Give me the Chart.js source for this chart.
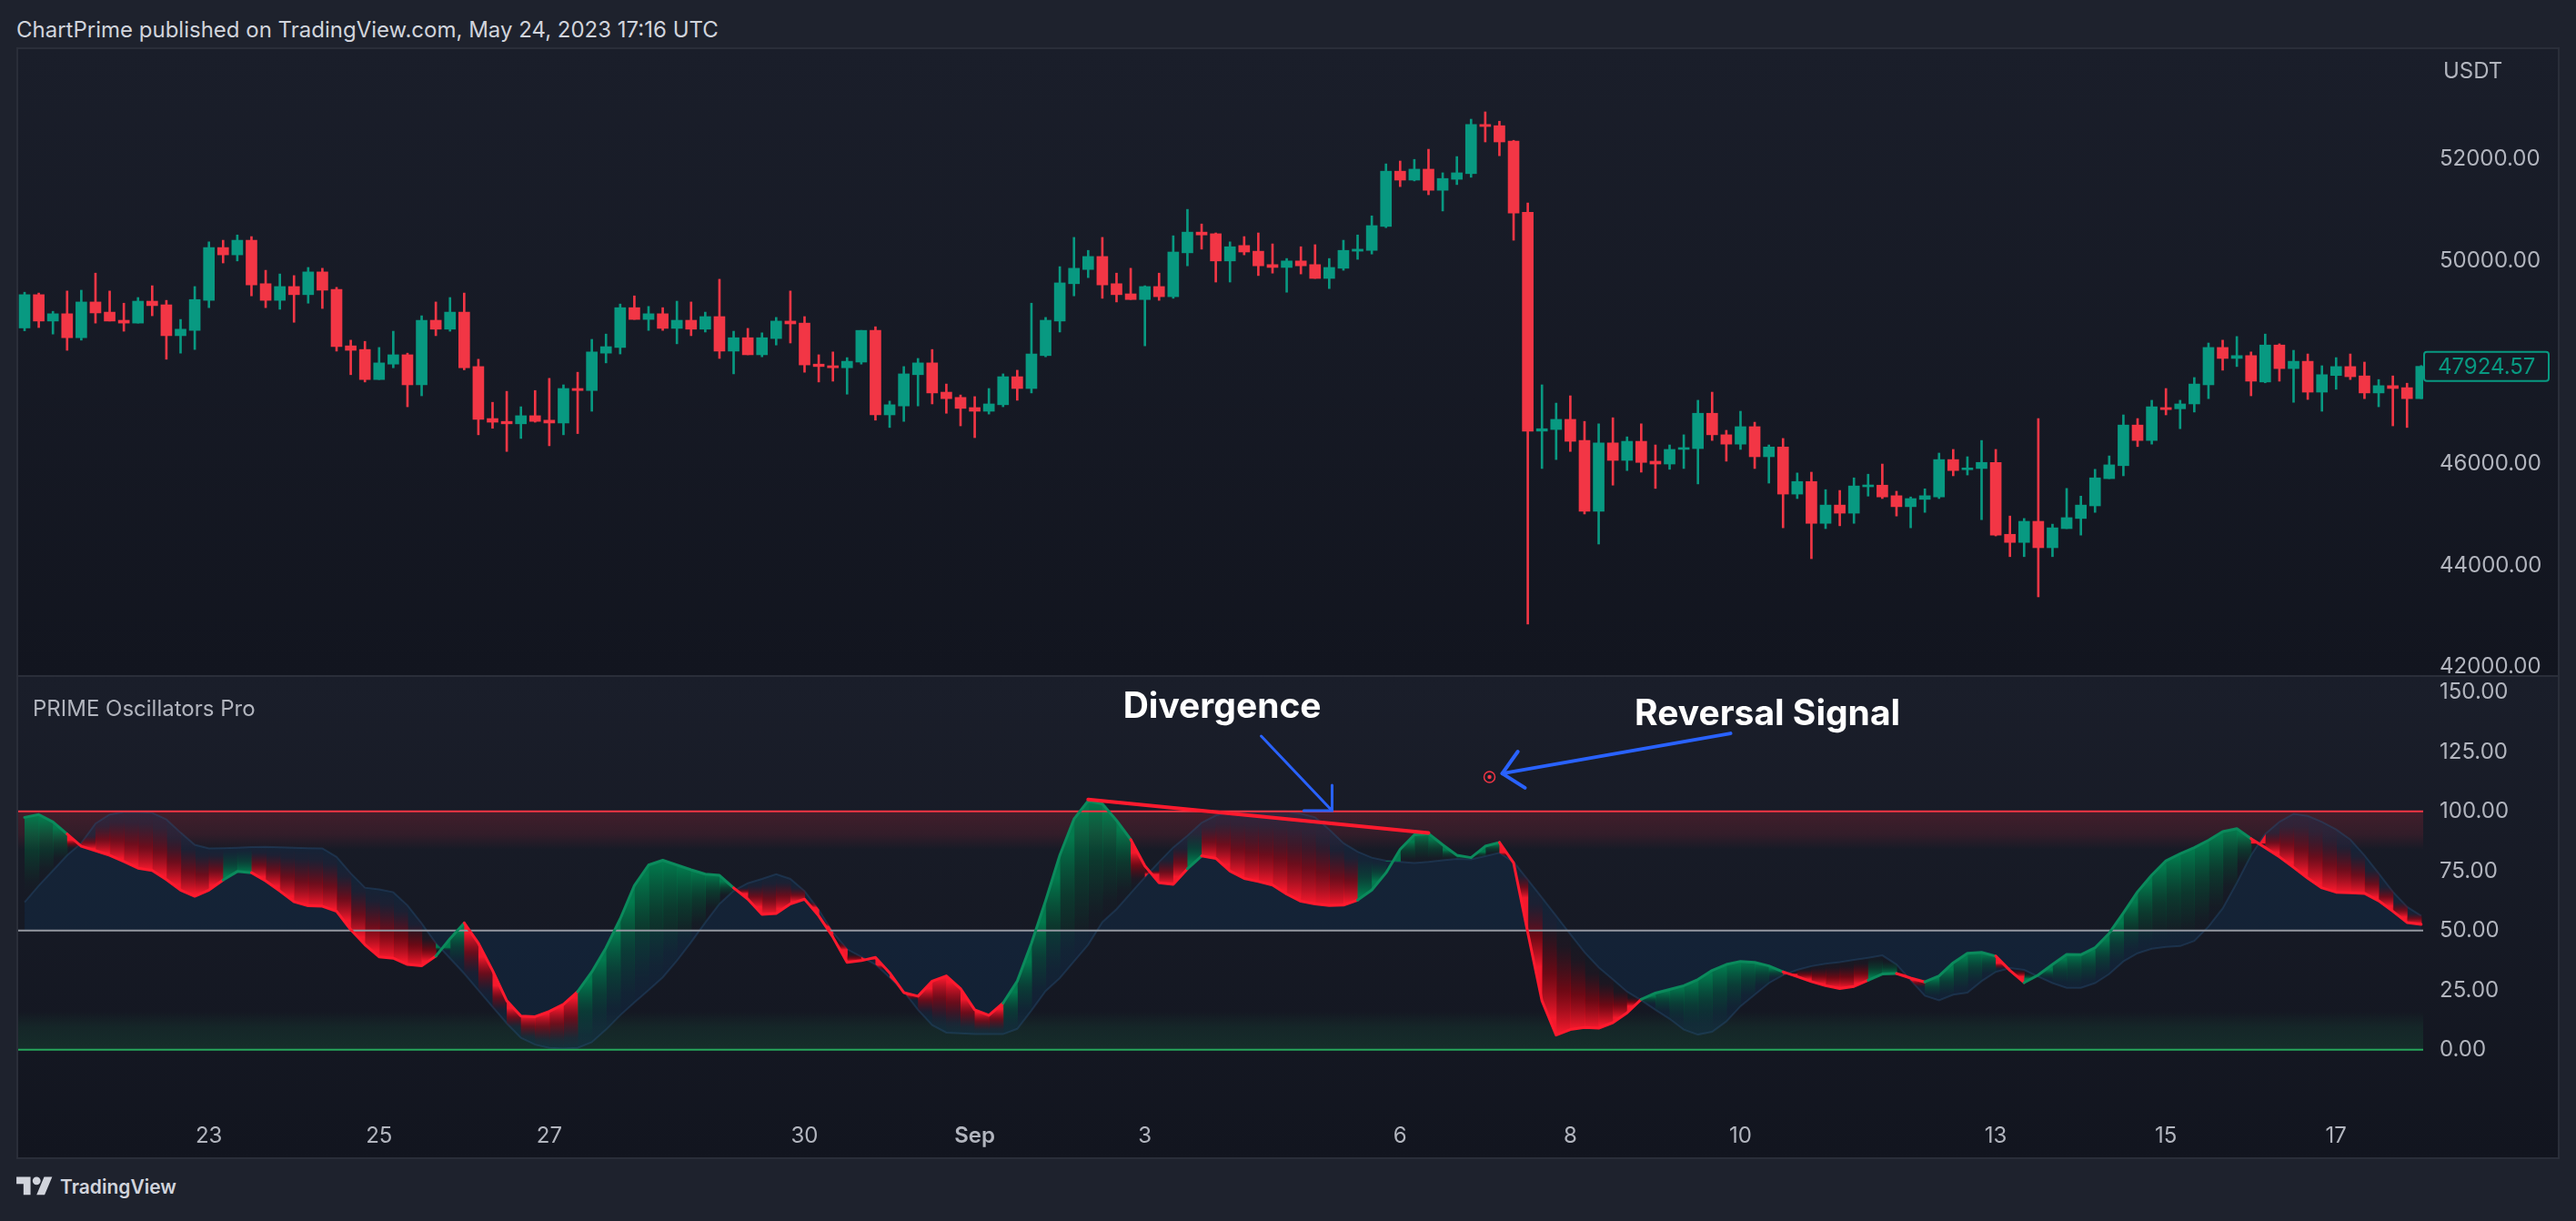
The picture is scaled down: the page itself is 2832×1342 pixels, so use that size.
<!DOCTYPE html>
<html>
<head>
<meta charset="utf-8">
<title>PRIME Oscillators Pro</title>
<script src="https://cdn.jsdelivr.net/npm/chart.js@4.4.0/dist/chart.umd.min.js"></script>
<style>
  html, body { margin: 0; padding: 0; background: #1e222d; width: 2832px; height: 1342px; overflow: hidden; font-family: Inter, "Noto Sans", sans-serif; }
  #header { position: absolute; left: 18px; top: 19px; font-size: 24px; line-height: 28px; color: #d1d4dc; white-space: nowrap; }
  #frame { position: absolute; left: 18px; top: 52px; width: 2796px; height: 1222px; border: 2px solid #2a2e39; box-sizing: border-box; }
  #price, #osc { position: absolute; left: 20px; }
  #price { top: 54px; }
  #osc { top: 744px; }
  #sep { position: absolute; left: 20px; top: 742px; width: 2792px; height: 2px; background: #2a2e39; }
  #brand { position: absolute; left: 18px; top: 1289px; height: 31px; display: flex; align-items: center; gap: 8px; color: #d1d4dc; font-size: 21px; font-weight: 600; }
</style>
</head>
<body>
<div id="header">ChartPrime published on TradingView.com, May 24, 2023 17:16 UTC</div>
<div id="frame"></div>
<canvas id="price" width="2792" height="688"></canvas>
<div id="sep"></div>
<canvas id="osc" width="2792" height="528"></canvas>
<div id="brand">
  <svg width="40" height="31" viewBox="0 0 36 28"><path fill="#d1d4dc" d="M14 22H7V11H0V4h14v18zM28 22h-8l7.5-18h8L28 22z"/><circle fill="#d1d4dc" cx="20" cy="8" r="4"/></svg>
  <span>TradingView</span>
</div>
<script>
// 4h candles, BTCUSDT, Aug 20 2021 20:00 -> Sep 18 2021
const opens = [
  48680, 49336, 48816, 48960, 48488, 49192, 48992, 48832, 48776, 49208,
  49136, 48528, 48632, 49224, 50264, 50120, 50408, 49552, 49224, 49496,
  49336, 49784, 49440, 48328, 48256, 47664, 47968, 48152, 47560, 48832,
  48656, 48992, 47920, 46896, 46840, 46792, 46952, 46864, 46808, 47488,
  47448, 48184, 48296, 49080, 48848, 48960, 48672, 48832, 48656, 48904,
  48224, 48488, 48152, 48472, 48816, 48776, 47968, 47936, 47896, 48008,
  48632, 46968, 47144, 47760, 47992, 47416, 47312, 47112, 47040, 47168,
  47720, 47488, 48136, 48816, 49552, 49832, 50088, 49552, 49352, 49240,
  49496, 49296, 50160, 50568, 50536, 50000, 50304, 50192, 49928, 49872,
  50000, 49928, 49656, 49856, 50192, 50208, 50680, 51768, 51592, 51808,
  51392, 51608, 51720, 52688, 52664, 52360, 50960, 46648, 46680, 46880,
  46464, 45072, 46416, 46072, 46448, 46056, 46000, 46288, 46304, 47000,
  46576, 46392, 46736, 46144, 46336, 45408, 45656, 44832, 45192, 45032,
  45552, 45584, 45376, 45160, 45304, 45352, 46088, 45888, 45912, 46032,
  44616, 44456, 44872, 44352, 44728, 44928, 45176, 45712, 45968, 46768,
  46464, 47112, 47088, 47184, 47560, 48296, 48080, 48136, 47616, 48344,
  47880, 48024, 47416, 47744, 47920, 47736, 47400, 47544, 47504, 47288
];
const highs = [
  49384, 49368, 49008, 49408, 49424, 49760, 49408, 49168, 49280, 49512,
  49224, 48848, 49496, 50376, 50408, 50512, 50480, 49816, 49744, 49712,
  49872, 49856, 49480, 48440, 48416, 48296, 48616, 48184, 48920, 49192,
  49280, 49368, 48064, 47216, 47432, 47128, 47448, 47688, 47560, 47808,
  48456, 48560, 49152, 49312, 49104, 49080, 49208, 49192, 48992, 49640,
  48616, 48672, 48584, 48888, 49408, 48904, 48152, 48208, 48096, 48632,
  48704, 47240, 47920, 48080, 48256, 47576, 47360, 47328, 47488, 47776,
  47848, 49168, 48888, 49888, 50464, 50208, 50464, 49760, 49856, 49512,
  49760, 50496, 51016, 50728, 50552, 50376, 50480, 50552, 50336, 50048,
  50280, 50320, 50048, 50408, 50512, 50888, 51912, 51968, 52000, 52200,
  51736, 52056, 52792, 52936, 52752, 52376, 51144, 47560, 47200, 47344,
  46840, 46792, 46912, 46536, 46792, 46376, 46376, 46576, 47256, 47416,
  46664, 47040, 46824, 46376, 46504, 45824, 45840, 45496, 45480, 45728,
  45800, 46000, 45464, 45352, 45512, 46216, 46288, 46144, 46464, 46288,
  44976, 44928, 46896, 44816, 45520, 45368, 45896, 46160, 46968, 46896,
  47256, 47488, 47256, 47704, 48384, 48440, 48512, 48208, 48560, 48368,
  48240, 48168, 47936, 48096, 48168, 48008, 47664, 47736, 47592, 47940
];
const lows = [
  48624, 48688, 48560, 48240, 48440, 48776, 48816, 48616, 48776, 48920,
  48064, 48184, 48256, 49080, 49960, 50000, 49312, 49080, 49048, 48792,
  49168, 49064, 48224, 47760, 47616, 47664, 47896, 47128, 47344, 48528,
  48616, 47856, 46576, 46704, 46248, 46504, 46824, 46360, 46576, 46600,
  47040, 47992, 48168, 48848, 48632, 48632, 48368, 48528, 48600, 48080,
  47776, 48152, 48112, 48344, 48384, 47808, 47616, 47632, 47376, 47968,
  46864, 46720, 46840, 47144, 47184, 47000, 46752, 46520, 46984, 47128,
  47256, 47400, 48112, 48600, 49312, 49672, 49264, 49192, 49240, 48328,
  49224, 49264, 49904, 50232, 49584, 49584, 50120, 49712, 49760, 49384,
  49744, 49656, 49456, 49816, 50032, 50136, 50656, 51464, 51576, 51304,
  50984, 51504, 51648, 52344, 52072, 50408, 42848, 45912, 46088, 46248,
  45016, 44424, 45584, 45872, 45840, 45520, 45896, 45912, 45608, 46464,
  46056, 46288, 45912, 45624, 44744, 45320, 44136, 44728, 44784, 44832,
  45368, 45320, 44976, 44744, 45048, 45320, 45768, 45784, 44904, 44584,
  44176, 44176, 43384, 44176, 44728, 44600, 45048, 45712, 45768, 46344,
  46392, 46968, 46696, 47024, 47288, 47848, 47920, 47344, 47600, 47632,
  47216, 47272, 47040, 47472, 47664, 47288, 47128, 46752, 46720, 47288
];
const closes = [
  49336, 48816, 48960, 48488, 49192, 48976, 48816, 48776, 49208, 49120,
  48528, 48656, 49240, 50264, 50120, 50408, 49528, 49224, 49496, 49336,
  49784, 49424, 48312, 48240, 47664, 47992, 48152, 47560, 48832, 48656,
  48992, 47896, 46880, 46824, 46792, 46952, 46840, 46808, 47488, 47448,
  48208, 48312, 49080, 48848, 48960, 48672, 48832, 48656, 48904, 48224,
  48488, 48152, 48488, 48816, 48760, 47952, 47920, 47896, 48024, 48632,
  46968, 47168, 47776, 47992, 47400, 47288, 47096, 47040, 47184, 47720,
  47488, 48168, 48832, 49568, 49856, 50088, 49528, 49336, 49240, 49496,
  49296, 50176, 50568, 50512, 50000, 50280, 50176, 49904, 49872, 50000,
  49904, 49656, 49872, 50208, 50232, 50696, 51768, 51592, 51808, 51392,
  51624, 51736, 52688, 52648, 52344, 50944, 46648, 46696, 46880, 46448,
  45072, 46416, 46072, 46448, 46032, 46000, 46288, 46304, 47000, 46576,
  46392, 46736, 46144, 46336, 45408, 45656, 44832, 45192, 45032, 45568,
  45584, 45352, 45160, 45320, 45376, 46088, 45872, 45912, 46032, 44600,
  44456, 44872, 44352, 44744, 44944, 45192, 45728, 45984, 46768, 46464,
  47128, 47072, 47184, 47576, 48296, 48080, 48136, 47632, 48344, 47880,
  48024, 47416, 47760, 47920, 47720, 47400, 47544, 47488, 47288, 47924.57
];

// PRIME oscillator, its smoothed signal, and the line colour state (1 = green, 0 = red)
const oscValues = [
  97.5, 98.7, 95.6, 90.5, 85.4, 83.5, 81.6, 79.0, 76.2, 75.2,
  71.4, 67.0, 64.4, 67.0, 71.2, 74.8, 74.3, 70.8, 66.6, 62.1,
  60.4, 60.2, 58.1, 50.4, 44.1, 39.0, 38.4, 35.8, 35.2, 39.3,
  46.6, 53.2, 44.7, 33.3, 20.6, 14.2, 13.9, 16.1, 19.1, 24.4,
  32.7, 42.8, 54.9, 68.9, 77.5, 79.5, 77.5, 75.5, 73.7, 73.2,
  67.9, 63.2, 56.8, 57.2, 61.2, 63.2, 56.2, 47.3, 36.7, 37.4,
  38.8, 32.3, 24.0, 22.5, 28.8, 31.0, 25.7, 16.8, 14.5, 19.6,
  28.8, 44.7, 62.5, 81.6, 96.8, 104.4, 103.2, 96.2, 88.2, 77.1,
  70.1, 69.4, 75.9, 81.3, 80.3, 75.0, 71.9, 70.6, 69.1, 65.3,
  62.3, 61.2, 60.5, 60.7, 62.8, 67.0, 74.2, 84.1, 90.2, 90.7,
  86.0, 81.6, 80.6, 85.4, 87.0, 78.4, 49.2, 20.6, 6.2, 8.5,
  9.4, 9.1, 11.4, 15.5, 21.2, 23.8, 25.3, 26.9, 29.5, 33.3,
  35.8, 37.1, 36.7, 35.2, 32.7, 30.7, 28.6, 26.9, 25.7, 26.6,
  29.2, 31.8, 32.0, 30.1, 28.5, 31.0, 36.5, 40.5, 40.9, 39.3,
  33.3, 28.2, 31.4, 35.8, 40.0, 39.9, 42.8, 48.9, 57.4, 66.3,
  73.3, 79.3, 82.2, 84.8, 87.9, 91.5, 92.8, 88.6, 84.8, 80.9,
  76.5, 72.0, 67.9, 66.1, 65.9, 65.6, 62.5, 58.1, 53.4, 52.6
];
const signalValues = [
  61.9, 68.9, 75.2, 81.6, 86.7, 94.9, 98.7, 99.7, 99.7, 99.4,
  96.6, 91.1, 86.0, 84.5, 84.6, 84.8, 85.0, 85.1, 84.9, 84.8,
  84.6, 84.5, 80.9, 74.0, 68.0, 67.3, 66.1, 60.6, 53.0, 44.7,
  38.4, 32.0, 25.0, 18.0, 11.1, 5.0, 2.2, 0.8, 0.5, 0.8,
  3.2, 8.5, 14.5, 19.9, 25.0, 30.4, 37.4, 45.1, 53.4, 61.2,
  66.7, 69.9, 71.7, 73.7, 71.7, 66.6, 58.7, 49.2, 42.2, 39.0,
  35.8, 30.4, 24.4, 16.8, 10.4, 7.2, 6.9, 6.6, 6.6, 6.6,
  8.8, 16.5, 24.7, 30.1, 37.1, 44.1, 53.6, 59.0, 65.7, 72.4,
  78.8, 84.9, 89.8, 95.2, 98.3, 99.7, 100, 100, 100, 100,
  99.1, 97.5, 92.4, 86.7, 83.1, 80.6, 79.3, 78.8, 78.4, 78.8,
  79.5, 80.1, 79.9, 81.2, 82.6, 78.8, 71.4, 63.8, 56.2, 48.5,
  40.9, 34.6, 29.5, 24.4, 20.8, 16.8, 13.0, 8.5, 6.4, 7.6,
  11.9, 18.3, 23.1, 28.0, 31.4, 33.5, 35.1, 36.1, 36.8, 37.7,
  38.6, 39.6, 35.8, 29.2, 22.7, 20.8, 23.1, 24.0, 28.8, 32.7,
  34.3, 33.5, 30.7, 28.0, 26.0, 26.0, 28.0, 31.8, 37.1, 40.5,
  42.4, 43.2, 43.5, 45.7, 51.7, 59.3, 70.1, 81.6, 90.5, 95.6,
  99.0, 98.1, 95.6, 92.4, 88.2, 81.6, 74.0, 66.3, 60.0, 56.2
];
const trendUp = [
  1, 1, 1, 1, 0, 0, 0, 0, 0, 0,
  0, 0, 0, 0, 0, 1, 1, 0, 0, 0,
  0, 0, 0, 0, 0, 0, 0, 0, 0, 0,
  1, 1, 0, 0, 0, 0, 0, 0, 0, 0,
  1, 1, 1, 1, 1, 1, 1, 1, 1, 1,
  1, 0, 0, 0, 0, 0, 0, 0, 0, 0,
  0, 0, 0, 0, 0, 0, 0, 0, 0, 0,
  1, 1, 1, 1, 1, 1, 1, 1, 1, 0,
  0, 0, 0, 1, 0, 0, 0, 0, 0, 0,
  0, 0, 0, 0, 0, 1, 1, 1, 1, 1,
  1, 1, 1, 1, 1, 0, 0, 0, 0, 0,
  0, 0, 0, 0, 0, 1, 1, 1, 1, 1,
  1, 1, 1, 1, 1, 0, 0, 0, 0, 0,
  0, 1, 1, 0, 0, 1, 1, 1, 1, 1,
  0, 0, 1, 1, 1, 1, 1, 1, 1, 1,
  1, 1, 1, 1, 1, 1, 1, 1, 0, 0,
  0, 0, 0, 0, 0, 0, 0, 0, 0, 0
];

const dayTicks = [13, 25, 37, 55, 67, 79, 97, 109, 121, 139, 151, 163];
const dayLabels = ['23', '25', '27', '30', 'Sep', '3', '6', '8', '10', '13', '15', '17'];
const priceTicks = [42000, 44000, 46000, 50000, 52000];
const oscTicks = [0, 25, 50, 75, 100, 125, 150];
const levelValues = [100, 50, 0];

// annotations, in bar index / oscillator units
const divergenceX = [75, 99];
const divergenceY = [105, 91];
const reversalX = [103.3];
const reversalY = [114.4];
const noteLabels = ['Divergence', 'Reversal Signal'];
const noteX = [84.45, 122.9];
const noteY = [139.2, 136.2];
const divArrowX = [87.2, 92.15];
const divArrowY = [131.6, 100.6];
const divHeadX = [92.2, 92.2, 90.2];
const divHeadY = [111, 100.3, 100.3];
const revArrowX = [120.3, 104.2];
const revArrowY = [132.7, 115.9];
const revHeadX = [105.3, 104.2, 105.8];
const revHeadY = [125.1, 115.9, 109.9];

const X_MIN = -0.45, X_MAX = 169.14;
const UP = '#089981', DOWN = '#f23645';
const FONT = 'Inter, "Noto Sans", sans-serif';
const AXIS_TEXT = '#b2b5be';

const pts = (xs, ys) => xs.map((x, i) => ({ x, y: ys[i] }));
const span = v => [{ x: X_MIN - 1, y: v }, { x: X_MAX + 1, y: v }];
const candleColor = c => closes[c.dataIndex] >= opens[c.dataIndex] ? UP : DOWN;

const paneBackground = {
  id: 'paneBackground',
  beforeDraw(chart) {
    const { ctx, width, height } = chart;
    const g = ctx.createLinearGradient(0, 0, 0, height);
    g.addColorStop(0, '#1a1e2a');
    g.addColorStop(1, '#12151f');
    ctx.save();
    ctx.fillStyle = g;
    ctx.fillRect(0, 0, width, height);
    ctx.restore();
  }
};

const priceExtras = {
  id: 'priceExtras',
  afterDraw(chart) {
    const { ctx, chartArea: ca } = chart;
    const y = chart.scales.y;
    const last = closes[closes.length - 1];
    const py = y.getPixelForValue(last);
    ctx.save();
    ctx.font = `24px ${FONT}`;
    ctx.textBaseline = 'middle';
    ctx.textAlign = 'left';
    ctx.fillStyle = AXIS_TEXT;
    ctx.fillText('USDT', ca.right + 22, 25);
    ctx.fillStyle = '#161a25';
    ctx.strokeStyle = UP;
    ctx.lineWidth = 2;
    ctx.beginPath();
    ctx.roundRect(ca.right + 1, py - 16, 137, 32, 3);
    ctx.fill();
    ctx.stroke();
    ctx.fillStyle = UP;
    ctx.fillText(last.toFixed(2), ca.right + 16, py + 1);
    ctx.restore();
  }
};

new Chart(document.getElementById('price'), {
  type: 'bar',
  data: {
    datasets: [
      { data: highs.map((h, i) => ({ x: i, y: [lows[i], h] })), backgroundColor: candleColor, barThickness: 2, grouped: false, order: 2 },
      { data: opens.map((o, i) => ({ x: i, y: [o, closes[i]] })), backgroundColor: candleColor, barThickness: 12, minBarLength: 2, grouped: false, order: 1 }
    ]
  },
  options: {
    responsive: false, animation: false, events: [], devicePixelRatio: 1,
    layout: { padding: 0, autoPadding: false },
    plugins: { legend: { display: false }, tooltip: { enabled: false } },
    scales: {
      x: { type: 'linear', min: X_MIN, max: X_MAX, offset: false, display: false },
      y: {
        position: 'right', min: 41843, max: 54172,
        afterBuildTicks: s => { s.ticks = priceTicks.map(v => ({ value: v })); },
        afterFit: s => { s.width = 148; s.paddingTop = 0; s.paddingBottom = 0; },
        grid: { display: false, drawTicks: false }, border: { display: false },
        ticks: { color: AXIS_TEXT, font: { family: FONT, size: 24 }, padding: 18, callback: v => Number(v).toFixed(2) }
      }
    }
  },
  plugins: [paneBackground, priceExtras]
});

function zoneGradient(chart, from, to, rgb, alpha) {
  const ca = chart.chartArea;
  if (!ca) return 'transparent';
  const y = chart.scales.y;
  const g = chart.ctx.createLinearGradient(0, y.getPixelForValue(from), 0, y.getPixelForValue(to));
  g.addColorStop(0, `rgba(${rgb},${alpha})`);
  g.addColorStop(0.6, `rgba(${rgb},${alpha * 0.65})`);
  g.addColorStop(1, `rgba(${rgb},0)`);
  return g;
}

// gradient fill between the oscillator and its signal, one slice per bar
const oscBand = {
  id: 'oscBand',
  beforeDatasetDraw(chart, args) {
    if (!chart.data.datasets[args.index].bandBefore) return;
    const { ctx, chartArea: ca } = chart;
    const xs = chart.scales.x, ys = chart.scales.y;
    ctx.save();
    ctx.beginPath();
    ctx.rect(ca.left, ca.top, ca.right - ca.left, ca.bottom - ca.top);
    ctx.clip();
    for (let i = 0; i < oscValues.length - 1; i++) {
      const x0 = xs.getPixelForValue(i), x1 = xs.getPixelForValue(i + 1) + 0.6;
      const o0 = ys.getPixelForValue(oscValues[i]), o1 = ys.getPixelForValue(oscValues[i + 1]);
      const s0 = ys.getPixelForValue(signalValues[i]), s1 = ys.getPixelForValue(signalValues[i + 1]);
      const oy = (o0 + o1) / 2;
      let sy = (s0 + s1) / 2;
      if (Math.abs(sy - oy) < 1) sy = oy + 1;
      const g = ctx.createLinearGradient(0, oy, 0, sy);
      if (trendUp[i + 1]) {
        g.addColorStop(0, 'rgba(0,130,80,0.92)');
        g.addColorStop(0.45, 'rgba(0,92,56,0.45)');
        g.addColorStop(0.85, 'rgba(0,80,50,0.05)');
        g.addColorStop(1, 'rgba(0,80,50,0)');
      } else {
        g.addColorStop(0, 'rgba(255,24,44,0.95)');
        g.addColorStop(0.4, 'rgba(160,0,12,0.62)');
        g.addColorStop(0.8, 'rgba(120,0,12,0.08)');
        g.addColorStop(1, 'rgba(120,0,12,0)');
      }
      ctx.fillStyle = g;
      ctx.beginPath();
      ctx.moveTo(x0, o0);
      ctx.lineTo(x1, o1);
      ctx.lineTo(x1, s1);
      ctx.lineTo(x0, s0);
      ctx.closePath();
      ctx.fill();
    }
    ctx.restore();
  }
};

const oscText = {
  id: 'oscText',
  afterDatasetsDraw(chart) {
    const { ctx, chartArea: ca } = chart;
    const xs = chart.scales.x, ys = chart.scales.y;
    ctx.save();
    ctx.font = `24px ${FONT}`;
    ctx.fillStyle = AXIS_TEXT;
    ctx.textBaseline = 'middle';
    ctx.textAlign = 'left';
    ctx.fillText('PRIME Oscillators Pro', ca.left + 16, ca.top + 36);
    ctx.font = `bold 39px ${FONT}`;
    ctx.fillStyle = '#ffffff';
    ctx.textAlign = 'center';
    ctx.textBaseline = 'alphabetic';
    noteLabels.forEach((t, i) => ctx.fillText(t, xs.getPixelForValue(noteX[i]), ys.getPixelForValue(noteY[i])));
    ctx.restore();
  }
};

const plain = { pointRadius: 0, borderWidth: 0, fill: false, tension: 0 };

new Chart(document.getElementById('osc'), {
  type: 'line',
  data: {
    datasets: [
      { ...plain, data: span(levelValues[0]), fill: { value: 84 }, backgroundColor: c => zoneGradient(c.chart, 100, 84, '230,40,60', 0.2), order: 20 },
      { ...plain, data: span(levelValues[2]), fill: { value: 16 }, backgroundColor: c => zoneGradient(c.chart, 0, 16, '30,160,90', 0.16), order: 19 },
      { ...plain, data: signalValues.map((v, i) => ({ x: i, y: v })), fill: { value: 50 }, backgroundColor: 'rgba(15,55,95,0.3)', borderColor: 'rgba(40,80,120,0.4)', borderWidth: 2, order: 18 },
      { ...plain, data: span(levelValues[0]), borderColor: '#f23645', borderWidth: 2, order: 10, bandBefore: true },
      { ...plain, data: span(levelValues[1]), borderColor: '#9598a1', borderWidth: 2, order: 9 },
      { ...plain, data: span(levelValues[2]), borderColor: '#26a65b', borderWidth: 2, order: 8 },
      { ...plain, data: oscValues.map((v, i) => ({ x: i, y: v })), borderWidth: 3, borderColor: '#ff1a2e', borderCapStyle: 'round', borderJoinStyle: 'round',
        segment: { borderColor: c => trendUp[c.p1DataIndex] ? '#0b8a5c' : '#ff1a2e' }, order: 5 },
      { ...plain, data: pts(divergenceX, divergenceY), borderColor: '#ff1a2e', borderWidth: 4, borderCapStyle: 'round', order: 4 },
      { ...plain, data: pts(divArrowX, divArrowY), borderColor: '#2962ff', borderWidth: 3, borderCapStyle: 'round', order: 3 },
      { ...plain, data: pts(divHeadX, divHeadY), borderColor: '#2962ff', borderWidth: 3, borderCapStyle: 'round', order: 3 },
      { ...plain, data: pts(revArrowX, revArrowY), borderColor: '#2962ff', borderWidth: 4, borderCapStyle: 'round', order: 3 },
      { ...plain, data: pts(revHeadX, revHeadY), borderColor: '#2962ff', borderWidth: 4, borderCapStyle: 'round', borderJoinStyle: 'round', order: 3 },
      { data: pts(reversalX, reversalY), showLine: false, pointRadius: 6, pointBorderColor: '#f23645', pointBorderWidth: 1.5, pointBackgroundColor: 'rgba(0,0,0,0)', order: 2 },
      { data: pts(reversalX, reversalY), showLine: false, pointRadius: 2.2, pointBorderWidth: 0, pointBackgroundColor: '#f23645', order: 1 }
    ]
  },
  options: {
    responsive: false, animation: false, events: [], devicePixelRatio: 1,
    layout: { padding: 0, autoPadding: false },
    plugins: { legend: { display: false }, tooltip: { enabled: false } },
    scales: {
      x: {
        type: 'linear', min: X_MIN, max: X_MAX, offset: false,
        afterBuildTicks: s => { s.ticks = dayTicks.map(v => ({ value: v })); },
        afterFit: s => { s.height = 50; s.paddingLeft = 0; s.paddingRight = 0; },
        grid: { display: false, drawTicks: false }, border: { display: false },
        ticks: {
          autoSkip: false, maxRotation: 0, padding: 12, color: AXIS_TEXT,
          font: c => ({ family: FONT, size: 24, weight: dayLabels[c.index] === 'Sep' ? '600' : '400' }),
          callback: (v, i) => dayLabels[i]
        }
      },
      y: {
        position: 'right', min: -26, max: 156.4,
        afterBuildTicks: s => { s.ticks = oscTicks.map(v => ({ value: v })); },
        afterFit: s => { s.width = 148; s.paddingTop = 0; s.paddingBottom = 0; },
        grid: { display: false, drawTicks: false }, border: { display: false },
        ticks: { color: AXIS_TEXT, font: { family: FONT, size: 24 }, padding: 18, callback: v => Number(v).toFixed(2) }
      }
    }
  },
  plugins: [paneBackground, oscBand, oscText]
});
</script>
</body>
</html>
